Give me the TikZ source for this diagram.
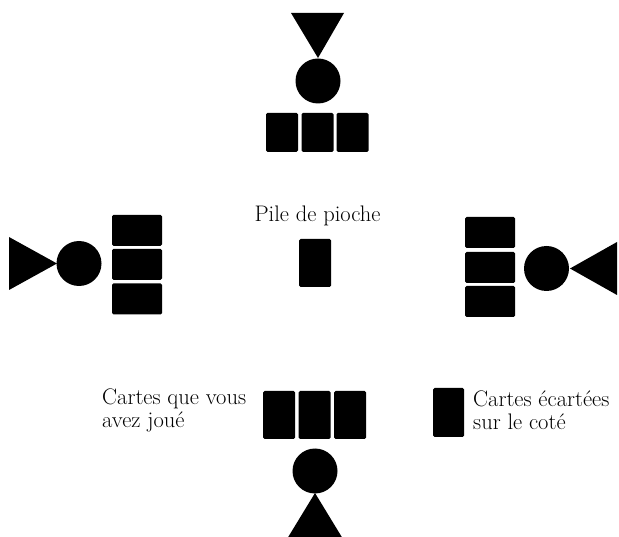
\documentclass[tikz,border=0pt]{standalone}
\usetikzlibrary{positioning}
\begin{document}
\begin{tikzpicture}[x=1pt,y=-1pt,
  card/.style={fill=black,draw=none,rounded corners=1.5pt,inner sep=0pt,outer sep=0pt},
  vcard/.style={card,minimum width=32pt,minimum height=39pt},
  hcard/.style={card,minimum width=50pt,minimum height=31pt},
  tcard/.style={card,minimum width=32pt,minimum height=48pt},
  head/.style={circle,fill=black,inner sep=0pt,minimum size=45pt},
  lbl/.style={anchor=base west,inner sep=0pt,font=\fontsize{22.5}{24}\selectfont}]
\useasboundingbox (0,0) rectangle (619,537);
\fill[white] (0,0) rectangle (619,537);
% top player
\fill (291,13) -- (344,13) -- (318,58) -- cycle;
\node[head] (tc) at (318,81) {};
\node[vcard] (t1) at (282,132.5) {};
\node[vcard] (t2) at (317.5,132.5) {};
\node[vcard] (t3) at (352.5,132.5) {};
% left player
\fill (9,237) -- (9,290) -- (57,263.5) -- cycle;
\node[head] (lc) at (79,263.5) {};
\node[hcard] (l1) at (137,230.5) {};
\node[hcard] (l2) at (137,264.5) {};
\node[hcard] (l3) at (137,299) {};
% right player
\fill (617,242) -- (617,295) -- (570,268.5) -- cycle;
\node[head] (rc) at (546.5,268.5) {};
\node[hcard] (r1) at (490,232.5) {};
\node[hcard] (r2) at (490,267.5) {};
\node[hcard] (r3) at (490,301.5) {};
% bottom player
\fill (315,493) -- (343,539) -- (287,539) -- cycle;
\node[head] (bc) at (315,471) {};
\node[tcard] (b1) at (279,415) {};
\node[tcard] (b2) at (314.5,415) {};
\node[tcard] (b3) at (350,415) {};
% pile
\node[tcard] (pile) at (315,263) {};
\node[lbl,anchor=base] (pilet) at (317.5,222) {Pile de pioche};
% discard
\node[card,minimum width=31pt,minimum height=49pt] (disc) at (448.5,412.5) {};
\node[lbl] (d1) at (473,407) {Cartes écartées};
\node[lbl] (d2) at (473,430) {sur le coté};
% played
\node[lbl] (p1) at (102,405) {Cartes que vous};
\node[lbl] (p2) at (102,428) {avez joué};
\end{tikzpicture}
\end{document}
